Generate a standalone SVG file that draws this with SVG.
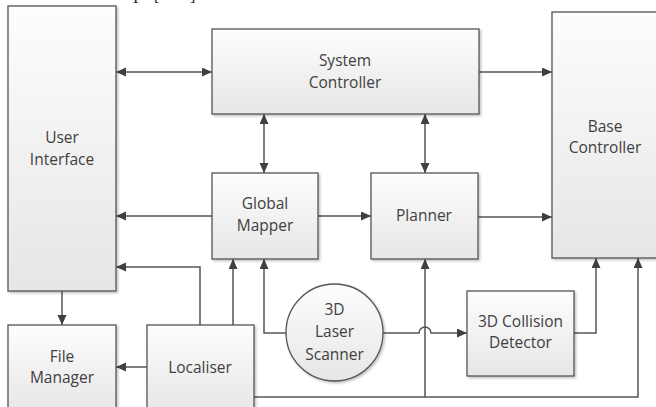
<svg xmlns="http://www.w3.org/2000/svg" width="656" height="407" viewBox="0 0 656 407">
  <style>
    .box { fill: url(#g); stroke: #555; stroke-width: 1.3; filter: url(#sh); }
    .lbl { font-family: "Open Sans", "Noto Sans", sans-serif; font-size: 15.5px; fill: #404040; text-anchor: middle; }
    .c { fill: none; stroke: #555; stroke-width: 1.5; }
    .frag { font-family: "Liberation Serif", serif; font-size: 16px; fill: #222; }
  </style>
  <defs>
    <linearGradient id="g" x1="0" y1="0" x2="0" y2="1">
      <stop offset="0" stop-color="#fdfdfd"/>
      <stop offset="1" stop-color="#e6e6e6"/>
    </linearGradient>
    <filter id="sh" x="-10%" y="-10%" width="130%" height="130%">
      <feDropShadow dx="1.5" dy="1.5" stdDeviation="1" flood-color="#000" flood-opacity="0.25"/>
    </filter>
    <marker id="a" markerUnits="userSpaceOnUse" markerWidth="11" markerHeight="10" refX="10" refY="4.5" orient="auto-start-reverse">
      <path d="M0,0 L10,4.5 L0,9 z" fill="#404040"/>
    </marker>
  </defs>
  <rect width="656" height="407" fill="#fff"/>
  <text class="frag" x="133" y="3">I</text>
  <text class="frag" x="154" y="0.5">[</text>
  <text class="frag" x="190" y="0.5">]</text>

  <g id="connectors">
    <path class="c" d="M116,72 H212" marker-start="url(#a)" marker-end="url(#a)"/>
    <path class="c" d="M479,72 H552" marker-end="url(#a)"/>
    <path class="c" d="M264,114 V173" marker-start="url(#a)" marker-end="url(#a)"/>
    <path class="c" d="M425,114 V173" marker-start="url(#a)" marker-end="url(#a)"/>
    <path class="c" d="M212,216 H116" marker-end="url(#a)"/>
    <path class="c" d="M318,216 H371" marker-end="url(#a)"/>
    <path class="c" d="M478,217 H552" marker-end="url(#a)"/>
    <path class="c" d="M62,291 V325" marker-end="url(#a)"/>
    <path class="c" d="M147,367 H116" marker-end="url(#a)"/>
    <path class="c" d="M200,325 V267 H116" marker-end="url(#a)"/>
    <path class="c" d="M233,325 V259" marker-end="url(#a)"/>
    <path class="c" d="M286,333 H264 V259" marker-end="url(#a)"/>
    <path class="c" d="M383,333 H419 A6,6 0 0 1 431,333 H467" marker-end="url(#a)"/>
    <path class="c" d="M254,397 H638 V258" marker-end="url(#a)"/>
    <path class="c" d="M425,397 V259" marker-end="url(#a)"/>
    <path class="c" d="M574,333 H596 V258" marker-end="url(#a)"/>
  </g>

  <g id="user-interface">
    <rect class="box" x="8" y="6" width="108" height="285"/>
    <text class="lbl" x="62" y="143">User</text>
    <text class="lbl" x="62" y="165">Interface</text>
  </g>
  <g id="system-controller">
    <rect class="box" x="212" y="29" width="267" height="85"/>
    <text class="lbl" x="345" y="66">System</text>
    <text class="lbl" x="345" y="88">Controller</text>
  </g>
  <g id="base-controller">
    <rect class="box" x="552" y="12" width="110" height="246"/>
    <text class="lbl" x="605" y="132">Base</text>
    <text class="lbl" x="605" y="153">Controller</text>
  </g>
  <g id="global-mapper">
    <rect class="box" x="212" y="173" width="106" height="86"/>
    <text class="lbl" x="265" y="209">Global</text>
    <text class="lbl" x="265" y="231">Mapper</text>
  </g>
  <g id="planner">
    <rect class="box" x="371" y="173" width="107" height="86"/>
    <text class="lbl" x="424" y="221">Planner</text>
  </g>
  <g id="file-manager">
    <rect class="box" x="8" y="325" width="108" height="90"/>
    <text class="lbl" x="62" y="362">File</text>
    <text class="lbl" x="62" y="383">Manager</text>
  </g>
  <g id="localiser">
    <rect class="box" x="147" y="325" width="107" height="90"/>
    <text class="lbl" x="200" y="373">Localiser</text>
  </g>
  <g id="laser-scanner">
    <circle class="box" cx="334.5" cy="332.5" r="48.5"/>
    <text class="lbl" x="334.5" y="315">3D</text>
    <text class="lbl" x="334.5" y="337">Laser</text>
    <text class="lbl" x="334.5" y="360">Scanner</text>
  </g>
  <g id="collision-detector">
    <rect class="box" x="467" y="291" width="107" height="85"/>
    <text class="lbl" x="520.5" y="327">3D Collision</text>
    <text class="lbl" x="520.5" y="348">Detector</text>
  </g>
</svg>
